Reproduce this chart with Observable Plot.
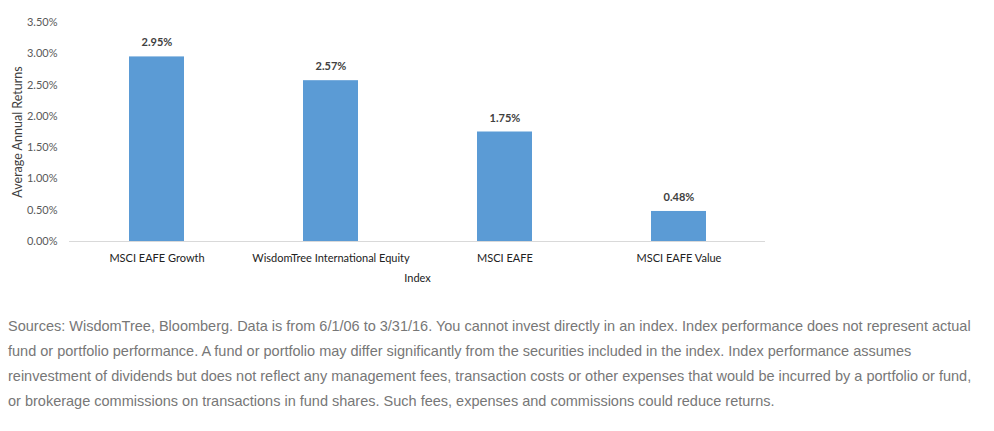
<!DOCTYPE html>
<html>
<head>
<meta charset="utf-8">
<script src="https://cdn.jsdelivr.net/npm/d3@7"></script>
<script src="https://cdn.jsdelivr.net/npm/@observablehq/plot@0.6"></script>
<style>
  html, body { margin: 0; padding: 0; background: #ffffff; }
  #chart { width: 994px; }
  #caption {
    margin: 22px 0 0 8px;
    font-family: "Liberation Sans", Arial, sans-serif;
    font-size: 14.5px;
    line-height: 25px;
    color: #777777;
    white-space: nowrap;
  }
</style>
</head>
<body>
<div id="chart"></div>
<div id="caption"></div>
<script>
const categories = ["MSCI EAFE Growth", "WisdomTree International Equity", "MSCI EAFE", "MSCI EAFE Value"];
const values = [2.95, 2.57, 1.75, 0.48];
const yTicks = [0, 0.5, 1.0, 1.5, 2.0, 2.5, 3.0, 3.5];
const yTitle = "Average Annual Returns";
const xTitle = "Index";
const captionLines = [
  "Sources: WisdomTree, Bloomberg. Data is from 6/1/06 to 3/31/16. You cannot invest directly in an index. Index performance does not represent actual",
  "fund or portfolio performance. A fund or portfolio may differ significantly from the securities included in the index. Index performance assumes",
  "reinvestment of dividends but does not reflect any management fees, transaction costs or other expenses that would be incurred by a portfolio or fund,",
  "or brokerage commissions on transactions in fund shares. Such fees, expenses and commissions could reduce returns."
];

const data = categories.map((c, i) => ({cat: c, val: values[i]}));
const pct = d => d.toFixed(2) + "%";

const chart = Plot.plot({
  width: 994,
  height: 292,
  marginLeft: 69,
  marginRight: 229,
  marginTop: 22,
  marginBottom: 51,
  style: {fontFamily: "Lato, 'Open Sans', sans-serif", fontSize: "11px", color: "#595959", background: "#ffffff"},
  x: {domain: categories, paddingInner: 0.684, paddingOuter: 0.342},
  y: {domain: [0, 3.5]},
  marks: [
    Plot.barY(data, {x: "cat", y: "val", fill: "#5B9BD5"}),
    Plot.ruleY([0], {stroke: "#d9d9d9", strokeWidth: 1}),
    Plot.text(data, {x: "cat", y: "val", text: d => pct(d.val), dy: -14, fontWeight: "bold", fill: "#404040", fontSize: 11}),
    Plot.axisY({ticks: yTicks, tickFormat: pct, tickSize: 0, tickPadding: 12, label: null, fill: "#595959", fontSize: 11}),
    Plot.text([yTitle], {frameAnchor: "left", textAnchor: "middle", dx: -52, rotate: -90, fontSize: 12.5, fill: "#404040"}),
    Plot.axisX({tickSize: 0, tickPadding: 13, label: xTitle, labelAnchor: "center", labelOffset: 40, labelArrow: "none", fill: "#222222"})
  ]
});
document.getElementById("chart").appendChild(chart);
document.getElementById("caption").innerHTML = captionLines.join("<br>");
</script>
</body>
</html>
